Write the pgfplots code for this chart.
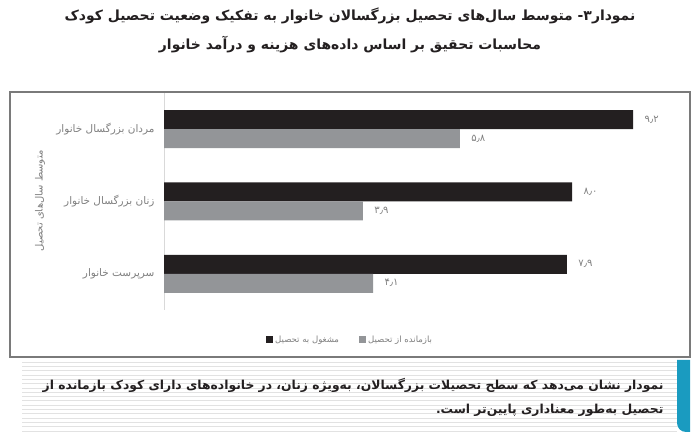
\documentclass[border=0pt]{standalone}
\usepackage{pgfplots}
\pgfplotsset{compat=1.18}
\usepackage{fontspec}
\TeXXeTstate=1
\newfontfamily\arabicfont[Script=Arabic]{DejaVu Sans}
\definecolor{barblack}{HTML}{231F20}
\definecolor{bargray}{HTML}{939598}
\definecolor{labgray}{HTML}{7F7F7F}
\definecolor{framegray}{HTML}{7A7A7A}
\definecolor{axisgray}{HTML}{D9D9D9}
\definecolor{capbar}{HTML}{1A9BC0}
\definecolor{stripe}{HTML}{E2E2E2}

\begin{document}
\begin{tikzpicture}[x=1bp,y=1bp]
\useasboundingbox (0,0) rectangle (700,444);

% title
\node[font=\arabicfont\bfseries\fontsize{14}{16}\selectfont, text=barblack] at (350,428)
  {\beginR نمودار۳- متوسط سال‌های تحصیل بزرگسالان خانوار به تفکیک وضعیت تحصیل کودک\endR};
\node[font=\arabicfont\bfseries\fontsize{14}{16}\selectfont, text=barblack] at (350,399)
  {\beginR محاسبات تحقیق بر اساس داده‌های هزینه و درآمد خانوار\endR};

% chart frame
\draw[framegray, line width=1.2bp] (10,87) rectangle (690,352);

% caption box
\foreach \yy in {13,17.3,...,84} \draw[stripe, line width=0.8bp] (22,\yy) -- (677,\yy);
\fill[capbar] (690,84) -- (690,12) [rounded corners=9bp] -- (677,12) [sharp corners] -- (677,84) -- cycle;
\node[anchor=east, font=\arabicfont\bfseries\fontsize{12.4}{15}\selectfont, text=barblack] at (667,59)
  {\beginR نمودار نشان می‌دهد که سطح تحصیلات بزرگسالان، به‌ویژه زنان، در خانواده‌های دارای کودک بازمانده از\endR};
\node[anchor=east, font=\arabicfont\bfseries\fontsize{12.4}{15}\selectfont, text=barblack] at (667,34)
  {\beginR تحصیل به‌طور معناداری پایین‌تر است.\endR};

% y axis title
\node[rotate=90, font=\arabicfont\fontsize{10}{12}\selectfont, text=labgray] at (40,243)
  {\beginR متوسط سال‌های تحصیل\endR};

\begin{axis}[
  at={(164bp,134bp)}, anchor=south west,
  scale only axis, width=510bp, height=217bp,
  xbar, bar width=19bp,
  xmin=0, xmax=10, ymin=0.5, ymax=3.5,
  hide x axis,
  axis y line*=left,
  y axis line style={draw=axisgray, line width=1bp, -},
  ytick={1,2,3},
  yticklabels={{\beginR سرپرست خانوار\endR}, {\beginR زنان بزرگسال خانوار\endR}, {\beginR مردان بزرگسال خانوار\endR}},
  major tick length=0,
  yticklabel style={font=\arabicfont\fontsize{10.5}{12}\selectfont, text=labgray, xshift=-6bp},
  point meta=explicit symbolic,
  nodes near coords,
  nodes near coords style={font=\arabicfont\fontsize{10}{12}\selectfont, text=labgray, anchor=west, xshift=8bp},
  legend style={at={(0.365,-0.138)}, anchor=center, draw=none, fill=none,
    legend columns=-1, font=\arabicfont\fontsize{8.6}{10}\selectfont, text=labgray,
    /tikz/every even column/.append style={column sep=18bp}},
  legend image code/.code={\fill[#1] (0bp,-3.5bp) rectangle (7bp,3.5bp);},
]
\addplot[fill=barblack, draw=none, bar shift=9.5bp]
  coordinates {(9.2,3) [۹٫۲] (8.0,2) [۸٫۰] (7.9,1) [۷٫۹]};
\addlegendentry{\beginR مشغول به تحصیل\endR}
\addplot[fill=bargray, draw=none, bar shift=-9.5bp]
  coordinates {(5.8,3) [۵٫۸] (3.9,2) [۳٫۹] (4.1,1) [۴٫۱]};
\addlegendentry{\beginR بازمانده از تحصیل\endR}
\end{axis}
\end{tikzpicture}
\end{document}
